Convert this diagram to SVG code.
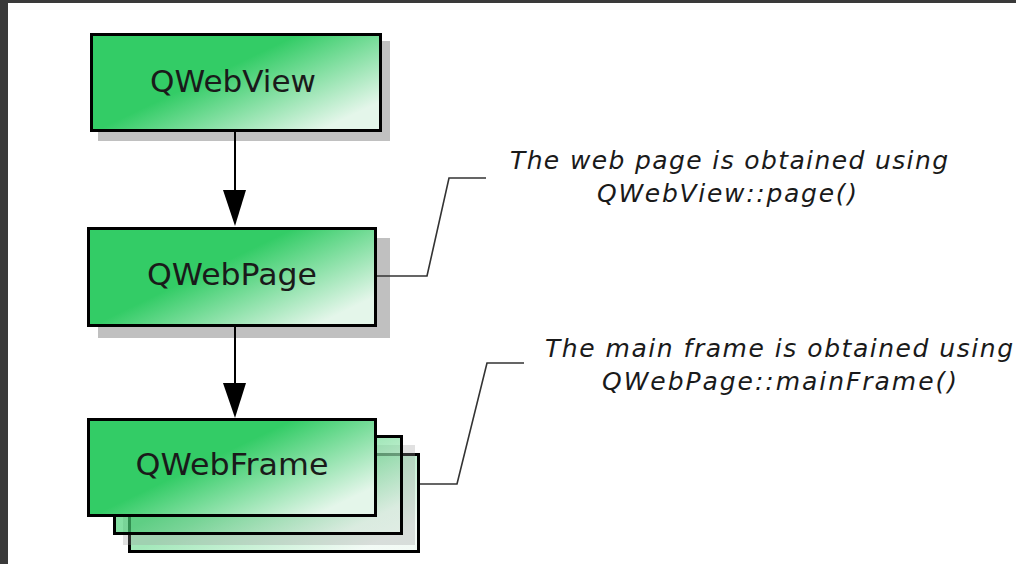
<svg xmlns="http://www.w3.org/2000/svg" width="1016" height="564" viewBox="0 0 1016 564">
<defs>
<linearGradient id="g" x1="0" y1="0" x2="1" y2="0.7">
<stop offset="0" stop-color="#33cc66"/>
<stop offset="0.48" stop-color="#33cc66"/>
<stop offset="1" stop-color="#e4f6ea"/>
</linearGradient>
<style>
.box{fill:url(#g);stroke:#000;stroke-width:3}
.sh{fill:#c0c0c0}
.lbl{font-family:"DejaVu Sans",Verdana,sans-serif;font-size:30px;fill:#1a1a1a;text-anchor:middle}
.note{font-family:"DejaVu Sans",Verdana,sans-serif;font-style:italic;font-size:25px;fill:#1a1a1a;text-anchor:middle}
.ln{fill:none;stroke:#000;stroke-width:2}
.co{fill:none;stroke:#333;stroke-width:1.6}
</style>
</defs>
<rect x="0" y="0" width="1016" height="564" fill="#fff"/>
<rect x="0" y="0" width="1016" height="3" fill="#3a3a3a"/>
<rect x="0" y="0" width="8" height="564" fill="#3a3a3a"/>

<g id="qwebview">
<rect class="sh" x="98" y="41" width="292" height="100"/>
<rect class="box" x="91.5" y="34.5" width="289" height="96"/>
<text class="lbl" x="233" y="92" textLength="166" lengthAdjust="spacingAndGlyphs">QWebView</text>
</g>

<g id="qwebpage">
<rect class="sh" x="98" y="238" width="292" height="100"/>
<rect class="box" x="88.5" y="228.5" width="287" height="97"/>
<text class="lbl" x="232" y="285" textLength="170" lengthAdjust="spacingAndGlyphs">QWebPage</text>
</g>

<g id="qwebframe">
<rect class="box" x="129.5" y="454.5" width="289" height="97" fill-opacity="0.45"/>
<rect x="123" y="445" width="292" height="100" fill="#9a9a9a" opacity="0.3"/>
<rect class="box" x="114.5" y="436.5" width="287" height="97" fill-opacity="0.6"/>
<rect class="box" x="88.5" y="419.5" width="287" height="96"/>
<text class="lbl" x="232" y="475" textLength="193" lengthAdjust="spacingAndGlyphs">QWebFrame</text>
</g>

<g id="connectors">
<line class="ln" x1="235" y1="132" x2="235" y2="192"/>
<polygon points="223,190 246,190 235,226" fill="#000"/>
<line class="ln" x1="235" y1="327" x2="235" y2="385"/>
<polygon points="223,383 246,383 235,418" fill="#000"/>
<polyline class="co" points="377,276 427,276 449,178 486,178"/>
<polyline class="co" points="420,484 457,484 487,363 524,363"/>
</g>

<g id="note1">
<text class="note" x="729" y="169" textLength="438" lengthAdjust="spacing">The web page is obtained using</text>
<text class="note" x="727" y="202" textLength="260" lengthAdjust="spacing">QWebView::page()</text>
</g>
<g id="note2">
<text class="note" x="779" y="357" textLength="468" lengthAdjust="spacing">The main frame is obtained using</text>
<text class="note" x="779.5" y="390" textLength="355" lengthAdjust="spacing">QWebPage::mainFrame()</text>
</g>
</svg>
